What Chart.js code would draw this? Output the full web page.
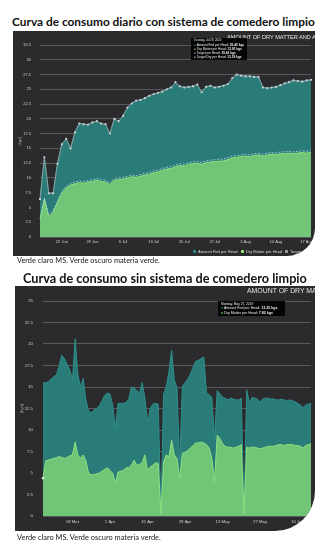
<!DOCTYPE html>
<html><head><meta charset="utf-8">
<script src="https://cdn.jsdelivr.net/npm/chart.js@4.4.1/dist/chart.umd.min.js"></script>
<style>
html,body{margin:0;padding:0;background:#fff;}
body{width:327px;height:555px;position:relative;overflow:hidden;font-family:Lato,'Liberation Sans',sans-serif;}
.fit{position:absolute;white-space:nowrap;line-height:1;}
.title{font-weight:700;color:#111;font-size:13px;}
.caption{color:#1a1a1a;font-size:7px;}
.panel{position:absolute;background:#2b2a2c;overflow:hidden;}
.panel canvas{position:absolute;left:0;top:0;}
.ptitle{position:absolute;white-space:nowrap;color:#e4e4e7;font-family:'Liberation Sans',Arial,sans-serif;line-height:1;}
.tip{position:absolute;background:rgba(0,0,0,0.9);color:#eee;font-family:'Liberation Sans',Arial,sans-serif;white-space:nowrap;line-height:1.3;padding:1px 3px;box-sizing:border-box;}
.tip b{font-weight:700}
.lg{position:absolute;white-space:nowrap;color:#d8d8dc;font-family:'Liberation Sans',Arial,sans-serif;line-height:1;font-size:4px;}
.sym{position:absolute;width:3px;height:3px;border-radius:1px;}
</style>
</head>
<body>
<span class="fit title" data-x0="12" data-x1="315" data-base="26.7">Curva de consumo diario con sistema de comedero limpio</span>
<div class="panel" id="p1" style="left:13px;top:31px;width:302px;height:225px;border-bottom-right-radius:28px">
  <canvas id="c1" width="302" height="225"></canvas>
  <div class="ptitle" style="left:214px;top:4px;font-size:5.6px">AMOUNT OF DRY MATTER AND AMOUNT FED</div>
  <div class="tip" style="left:178px;top:7px;width:56px;height:22px;font-size:3.2px">
    <div style="font-size:2.8px">Tuesday, Jul 28, 2020</div>
    <div><span style="color:#2b908f">●</span> Amount Fed per Head: <b>25.45 kgs</b></div>
    <div><span style="color:#90ee7e">●</span> Dry Matter per Head: <b>12.81 kgs</b></div>
    <div><span style="color:#c0c0c0">●</span> Target per Head: <b>25.43 kgs</b></div>
    <div><span style="color:#aaccee">●</span> Target Dry per Head: <b>13.18 kgs</b></div>
  </div>
  <div class="sym" style="left:180px;top:219px;background:#2b908f"></div>
  <div class="lg" style="left:185px;top:218.5px">Amount Fed per Head</div>
  <div class="sym" style="left:228px;top:219px;background:#90ee7e"></div>
  <div class="lg" style="left:233px;top:218.5px">Dry Matter per Head</div>
  <div class="sym" style="left:272px;top:219px;background:#a0a0a4"></div>
  <div class="lg" style="left:277px;top:218.5px">Target per Head</div>
</div>
<span class="fit caption" data-x0="17" data-x1="160" data-base="263.3">Verde claro MS. Verde oscuro materia verde.</span>

<span class="fit title" data-x0="23" data-x1="307" data-base="283.3">Curva de consumo sin sistema de comedero limpio</span>
<div class="panel" id="p2" style="left:15px;top:286px;width:300px;height:245px;border-bottom-right-radius:40px">
  <canvas id="c2" width="300" height="245"></canvas>
  <div class="ptitle" style="left:232px;top:1.5px;font-size:6.9px">AMOUNT OF DRY MATTER AND AMOUNT FED</div>
  <div class="tip" style="left:203px;top:15px;width:67px;height:15px;font-size:3.6px">
    <div style="font-size:3.2px">Monday, May 27, 2019</div>
    <div><span style="color:#2b908f">●</span> Amount Fed per Head: <b>13.25 kgs</b></div>
    <div><span style="color:#90ee7e">●</span> Dry Matter per Head: <b>7.82 kgs</b></div>
  </div>
</div>
<span class="fit caption" data-x0="17" data-x1="161" data-base="541">Verde claro MS. Verde oscuro materia verde.</span>

<script>
// ---------- Chart 1 (2020, clean feeder) ----------
const days1 = ['17 Jun','18 Jun','19 Jun','20 Jun','21 Jun','22 Jun','23 Jun','24 Jun','25 Jun','26 Jun','27 Jun','28 Jun','29 Jun','30 Jun',
 '1 Jul','2 Jul','3 Jul','4 Jul','5 Jul','6 Jul','7 Jul','8 Jul','9 Jul','10 Jul','11 Jul','12 Jul','13 Jul','14 Jul','15 Jul','16 Jul',
 '17 Jul','18 Jul','19 Jul','20 Jul','21 Jul','22 Jul','23 Jul','24 Jul','25 Jul','26 Jul','27 Jul','28 Jul','29 Jul','30 Jul','31 Jul',
 '1 Aug','2 Aug','3 Aug','4 Aug','5 Aug','6 Aug','7 Aug','8 Aug','9 Aug','10 Aug','11 Aug','12 Aug','13 Aug','14 Aug','15 Aug','16 Aug','17 Aug','18 Aug'];
const ticks1 = ['22 Jun','29 Jun','6 Jul','13 Jul','20 Jul','27 Jul','3 Aug','10 Aug','17 Aug'];
const amountFed1 = [6.4,13.5,7.4,7.4,12.5,15.8,16.5,15.1,17.8,19.3,
 19.0,19.1,19.4,19.5,19.2,19.0,17.6,20.1,19.5,20.6,
 21.8,22.7,23.0,23.2,23.6,23.9,24.1,24.4,24.7,25.0,
 25.4,26.1,25.5,25.4,25.4,25.6,25.7,24.6,25.5,25.6,
 25.4,25.45,25.7,25.9,26.8,27.6,27.3,27.3,27.2,27.2,
 27.1,25.4,25.2,25.3,25.5,25.7,26.0,26.3,26.6,26.4,
 26.4,26.5,26.6];
const target1 = [6.4,13.5,7.4,7.4,12.4,15.7,16.6,15.0,17.7,19.2,
 19.1,19.0,19.4,19.6,19.2,19.1,17.5,20.0,19.6,20.5,
 21.9,22.6,23.1,23.2,23.5,23.9,24.2,24.4,24.6,25.0,
 25.3,26.2,25.5,25.3,25.4,25.5,25.8,24.5,25.4,25.6,
 25.3,25.43,25.6,25.9,26.9,27.5,27.3,27.2,27.2,27.1,
 27.1,25.3,25.2,25.3,25.4,25.7,26.0,26.2,26.5,26.4,
 26.3,26.5,26.6];
const dryMatter1 = [2.9,6.4,3.4,4.2,5.8,7.4,8.3,8.8,9.0,9.2,
 9.1,9.3,9.4,9.6,9.4,9.3,8.9,9.6,9.7,9.8,
 10.0,10.2,10.1,10.3,10.5,10.6,10.9,11.0,11.3,11.5,
 11.6,11.9,12.1,12.0,12.3,12.4,12.5,12.3,12.6,12.7,
 12.8,12.81,12.9,13.1,13.4,13.5,13.6,13.7,13.6,13.8,
 13.9,13.7,13.9,14.0,13.9,14.1,14.1,14.2,14.1,14.2,
 14.3,14.2,14.3];
const targetDry1 = [3.1,6.6,3.7,4.5,6.1,7.7,8.6,9.1,9.3,9.5,
 9.4,9.6,9.7,9.9,9.7,9.6,9.2,9.9,10.0,10.1,
 10.3,10.5,10.4,10.6,10.8,10.9,11.2,11.3,11.6,11.8,
 11.9,12.2,12.4,12.3,12.6,12.7,12.8,12.6,12.9,13.0,
 13.1,13.18,13.2,13.4,13.7,13.8,13.9,14.0,13.9,14.1,
 14.2,14.0,14.2,14.3,14.2,14.4,14.4,14.5,14.4,14.5,
 14.6,14.5,14.6];

// ---------- Chart 2 (2019, no clean feeder) ----------
const days2 = ['7 Mar','8 Mar','9 Mar','10 Mar','11 Mar','12 Mar','13 Mar','14 Mar','15 Mar','16 Mar','17 Mar','18 Mar','19 Mar','20 Mar',
 '21 Mar','22 Mar','23 Mar','24 Mar','25 Mar','26 Mar','27 Mar','28 Mar','29 Mar','30 Mar','31 Mar',
 '1 Apr','2 Apr','3 Apr','4 Apr','5 Apr','6 Apr','7 Apr','8 Apr','9 Apr','10 Apr','11 Apr','12 Apr','13 Apr','14 Apr','15 Apr',
 '16 Apr','17 Apr','18 Apr','19 Apr','20 Apr','21 Apr','22 Apr','23 Apr','24 Apr','25 Apr','26 Apr','27 Apr','28 Apr','29 Apr','30 Apr',
 '1 May','2 May','3 May','4 May','5 May','6 May','7 May','8 May','9 May','10 May','11 May','12 May','13 May','14 May','15 May',
 '16 May','17 May','18 May','19 May','20 May','21 May','22 May','23 May','24 May','25 May','26 May','27 May','28 May','29 May','30 May','31 May',
 '1 Jun','2 Jun','3 Jun','4 Jun','5 Jun','6 Jun','7 Jun','8 Jun','9 Jun','10 Jun','11 Jun','12 Jun','13 Jun','14 Jun','15 Jun'];
const ticks2 = ['18 Mar','1 Apr','15 Apr','29 Apr','13 May','27 May','10 Jun'];
const amountFed2 = [15.5,15.5,15.6,15.9,16.2,16.4,17.4,18.7,18.3,17.6,
 17.0,15.8,20.6,16.5,15.0,16.0,13.5,12.2,12.0,12.3,
 12.5,12.8,13.4,14.0,14.3,14.2,12.9,10.2,13.1,13.1,
 13.1,13.2,13.6,15.0,14.9,14.6,14.3,15.5,13.8,10.9,
 12.5,13.0,13.1,13.0,0.5,14.2,15.0,16.8,19.3,15.8,
 14.9,6.0,15.1,15.5,15.9,16.5,17.3,18.0,18.1,18.3,
 18.5,14.3,14.1,13.8,9.0,14.6,14.2,13.8,13.7,13.5,
 13.7,13.6,13.5,13.5,13.7,0.5,14.7,13.1,13.8,13.7,
 13.6,13.25,13.6,13.7,13.7,13.6,13.6,13.5,13.5,13.6,
 13.5,13.4,13.5,13.4,13.3,13.1,12.9,12.6,12.9,13.0,
 13.1];
const dryMatter2 = [4.4,6.4,6.5,6.6,6.7,6.8,6.9,6.8,6.7,6.8,
 7.0,7.1,8.6,7.1,6.7,7.1,6.4,5.0,4.8,4.8,
 4.9,5.0,5.2,5.4,5.6,5.3,5.0,3.8,5.1,5.2,
 5.3,5.6,5.6,5.9,6.5,5.9,6.0,6.2,7.1,5.3,
 5.7,5.9,6.2,6.1,0.3,6.3,7.1,6.9,8.8,7.1,
 6.7,4.4,7.3,7.4,7.6,7.9,8.2,8.5,8.5,8.6,
 8.5,8.3,7.9,6.7,4.0,9.4,9.0,8.4,8.1,8.0,
 8.0,7.9,8.0,8.1,8.3,0.3,8.0,7.9,8.0,8.0,
 7.9,7.82,7.9,8.0,8.1,8.1,8.1,8.2,8.3,8.3,
 8.2,8.3,8.3,8.3,8.2,8.2,8.1,7.9,8.2,8.3,
 8.4];

const TEAL_FILL = '#2a7c79', TEAL_LINE = '#2f8f8b';
const GREEN_FILL = '#70c676', GREEN_LINE = '#8fe07f';
const TICK_COLOR = '#cfcfd3', GRID_COLOR = '#5a5a5e';

// fit page texts (titles, captions) to the measured extents of the reference
document.querySelectorAll('.fit').forEach(el => {
  const x0 = +el.dataset.x0, x1 = +el.dataset.x1, base = +el.dataset.base;
  const fs0 = parseFloat(getComputedStyle(el).fontSize);
  const w0 = el.getBoundingClientRect().width;
  const fs = fs0 * (x1 - x0) / w0;
  el.style.fontSize = fs + 'px';
  el.style.left = x0 + 'px';
  el.style.top = (base - 0.887 * fs) + 'px';
});

function buildOptions(cfg) {
  return {
    responsive: false,
    animation: false,
    devicePixelRatio: 1,
    layout: { padding: { top: cfg.padTop, right: cfg.padRight, bottom: 0, left: 0 } },
    plugins: { legend: { display: false }, tooltip: { enabled: false }, title: { display: false } },
    elements: { line: { tension: 0 } },
    scales: {
      x: {
        type: 'category', offset: false,
        grid: { display: false, drawTicks: false },
        border: { display: false },
        ticks: {
          autoSkip: false, maxRotation: 0, minRotation: 0, padding: cfg.xPad,
          color: TICK_COLOR, font: { size: cfg.tickSize, family: 'Liberation Sans' },
          callback: function (v) { const l = this.getLabelForValue(v); return cfg.tickList.includes(l) ? l : null; }
        },
        afterFit: s => { s.height = cfg.xHeight; }
      },
      y: {
        min: 0, max: cfg.yMax,
        grid: { color: GRID_COLOR, lineWidth: 1, drawTicks: false },
        border: { display: false },
        ticks: { stepSize: 2.5, padding: cfg.yPad, color: TICK_COLOR, font: { size: cfg.tickSize, family: 'Liberation Sans' } },
        title: { display: true, text: '(kgs)', color: '#a8a8ac', font: { size: cfg.tickSize, family: 'Liberation Sans' }, padding: { top: cfg.titlePad, bottom: 0 } },
        afterFit: s => { s.width = cfg.yWidth; }
      }
    }
  };
}

new Chart(document.getElementById('c1'), {
  type: 'line',
  data: {
    labels: days1,
    datasets: [
      { label: 'Target Dry per Head', data: targetDry1, borderColor: 'rgba(190,215,235,0.85)', borderWidth: 0.9, borderDash: [2, 1.5], pointRadius: 0, fill: false, order: 0 },
      { label: 'Target per Head', data: target1, borderColor: '#a4a4a8', borderWidth: 0.8, pointRadius: 1.1, pointBorderWidth: 0, pointBackgroundColor: '#cfcfd3', fill: false, order: 1 },
      { label: 'Dry Matter per Head', data: dryMatter1, borderColor: GREEN_LINE, backgroundColor: GREEN_FILL, borderWidth: 1, pointRadius: 0, fill: 'origin', order: 2 },
      { label: 'Amount Fed per Head', data: amountFed1, borderColor: TEAL_LINE, backgroundColor: TEAL_FILL, borderWidth: 1, pointRadius: 0, fill: 'origin', order: 3 }
    ]
  },
  options: buildOptions({ padTop: 14, padRight: 2, yMax: 32.5, yWidth: 27, yPad: 9, xHeight: 19, xPad: 2, tickSize: 4, tickList: ticks1, titlePad: 4.5 })
});

new Chart(document.getElementById('c2'), {
  type: 'line',
  data: {
    labels: days2,
    datasets: [
      { label: 'Dry Matter per Head', data: dryMatter2, borderColor: GREEN_LINE, backgroundColor: GREEN_FILL, borderWidth: 1, fill: 'origin', order: 0,
        pointRadius: c => c.dataIndex === 0 ? 1.2 : 0, pointBorderWidth: 0, pointBackgroundColor: '#e8e8e8' },
      { label: 'Amount Fed per Head', data: amountFed2, borderColor: TEAL_LINE, backgroundColor: TEAL_FILL, borderWidth: 1, pointRadius: 0, fill: 'origin', order: 1 }
    ]
  },
  options: buildOptions({ padTop: 15, padRight: 2, yMax: 25, yWidth: 28, yPad: 10, xHeight: 15, xPad: 3, tickSize: 4.3, tickList: ticks2, titlePad: 4.5 })
});
</script>
</body></html>
